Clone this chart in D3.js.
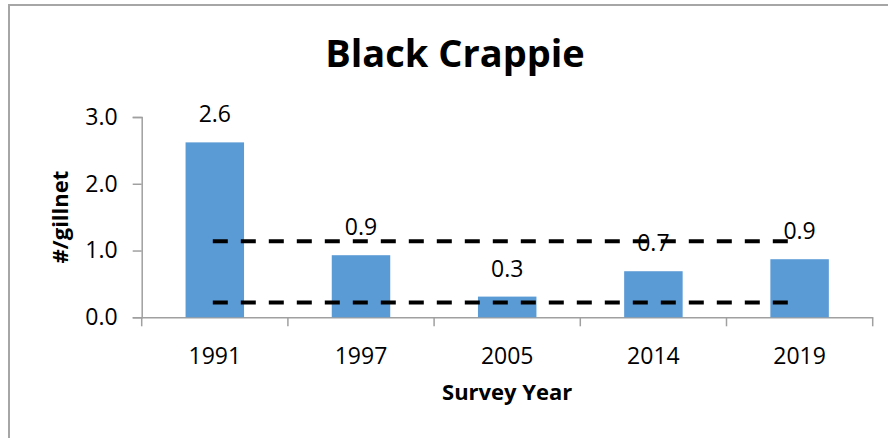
<!DOCTYPE html>
<meta charset="utf-8">
<script src="https://d3js.org/d3.v7.min.js"></script>
<style>
    body {margin: 0; background: #fff; font-family: 'Open Sans', sans-serif;}
</style>
<body>
<svg width="888" height="438"></svg>
<script>
    // survey data
    const years = ["1991", "1997", "2005", "2014", "2019"];
    const catch_rate = [2.62, 0.93, 0.31, 0.69, 0.87];
    const rate_labels = ["2.6", "0.9", "0.3", "0.7", "0.9"];
    const ref_lines = [1.14, 0.22];   // dashed reference lines
    const y_ticks = [0, 1, 2, 3];

    var svg = d3.select("svg");

    // outer chart border
    svg.append("rect")
        .attr("x", 9).attr("y", 5)
        .attr("width", 890).attr("height", 450)
        .style("fill", "none")
        .style("stroke", "#a6a6a6")
        .style("stroke-width", 2);

    var pLeft = 141.7, pRight = 872.7, pTop = 117, pBottom = 317.3;

    var x = d3.scaleBand().domain(years).range([pLeft, pRight]).paddingInner(0.6).paddingOuter(0.3);
    var y = d3.scaleLinear().domain([0, 3]).range([pBottom, pTop]);

    // title
    svg.append("text")
        .attr("x", 455).attr("y", 67)
        .attr("text-anchor", "middle")
        .style("font-size", "38px")
        .style("font-weight", "bold")
        .text("Black Crappie");

    // y axis
    var yAxis = svg.append("g")
        .attr("transform", "translate(" + pLeft + ",0)")
        .call(d3.axisLeft(y).tickValues(y_ticks).tickFormat(d3.format(".1f")).tickSize(9).tickPadding(15));
    yAxis.select(".domain").style("stroke", "#a0a0a0").style("stroke-width", 1.5);
    yAxis.selectAll(".tick line").style("stroke", "#a0a0a0").style("stroke-width", 1.5);
    yAxis.selectAll("text").style("font-size", "23px").style("font-family", "'Open Sans', sans-serif").style("fill", "#000");

    // x axis line + ticks between categories
    var xAxis = svg.append("g")
        .attr("transform", "translate(0," + pBottom + ")")
        .call(d3.axisBottom(x).tickSize(0).tickPadding(30));
    xAxis.select(".domain").style("stroke", "#a0a0a0").style("stroke-width", 1.5);
    xAxis.selectAll("text").style("font-size", "23px").style("font-family", "'Open Sans', sans-serif").style("fill", "#000");
    svg.append("g").selectAll("line")
        .data(d3.range(years.length + 1))
        .enter().append("line")
        .attr("x1", function(i){return pLeft + i*x.step();})
        .attr("x2", function(i){return pLeft + i*x.step();})
        .attr("y1", pBottom).attr("y2", pBottom + 9)
        .style("stroke", "#a0a0a0").style("stroke-width", 1.5);

    // bars
    svg.append("g").selectAll("rect")
        .data(catch_rate)
        .enter().append("rect")
        .attr("x", function(d, i){return x(years[i]);})
        .attr("width", x.bandwidth())
        .attr("y", function(d){return y(d);})
        .attr("height", function(d){return pBottom - y(d);})
        .style("fill", "#5b9bd5");

    // value labels
    svg.append("g").selectAll("text")
        .data(catch_rate)
        .enter().append("text")
        .attr("x", function(d, i){return x(years[i]) + x.bandwidth()/2;})
        .attr("y", function(d){return y(d) - 20;})
        .attr("text-anchor", "middle")
        .style("font-size", "23px")
        .text(function(d, i){return rate_labels[i];});

    // dashed lines
    svg.append("g").selectAll("line")
        .data(ref_lines)
        .enter().append("line")
        .attr("x1", x(years[0]) + x.bandwidth()/2 - 2)
        .attr("x2", x(years[years.length-1]) + x.bandwidth()/2 - 10)
        .attr("y1", function(d){return y(d);})
        .attr("y2", function(d){return y(d);})
        .style("stroke", "#000")
        .style("stroke-width", 4)
        .style("stroke-dasharray", "15,13");

    // axis titles
    svg.append("text")
        .attr("transform", "translate(68," + ((pTop+pBottom)/2) + ") rotate(-90)")
        .attr("text-anchor", "middle")
        .style("font-size", "22px")
        .style("font-weight", "bold")
        .text("#/gillnet");

    svg.append("text")
        .attr("x", (pLeft+pRight)/2).attr("y", 400)
        .attr("text-anchor", "middle")
        .style("font-size", "22px")
        .style("font-weight", "bold")
        .text("Survey Year");
</script>
</body>
